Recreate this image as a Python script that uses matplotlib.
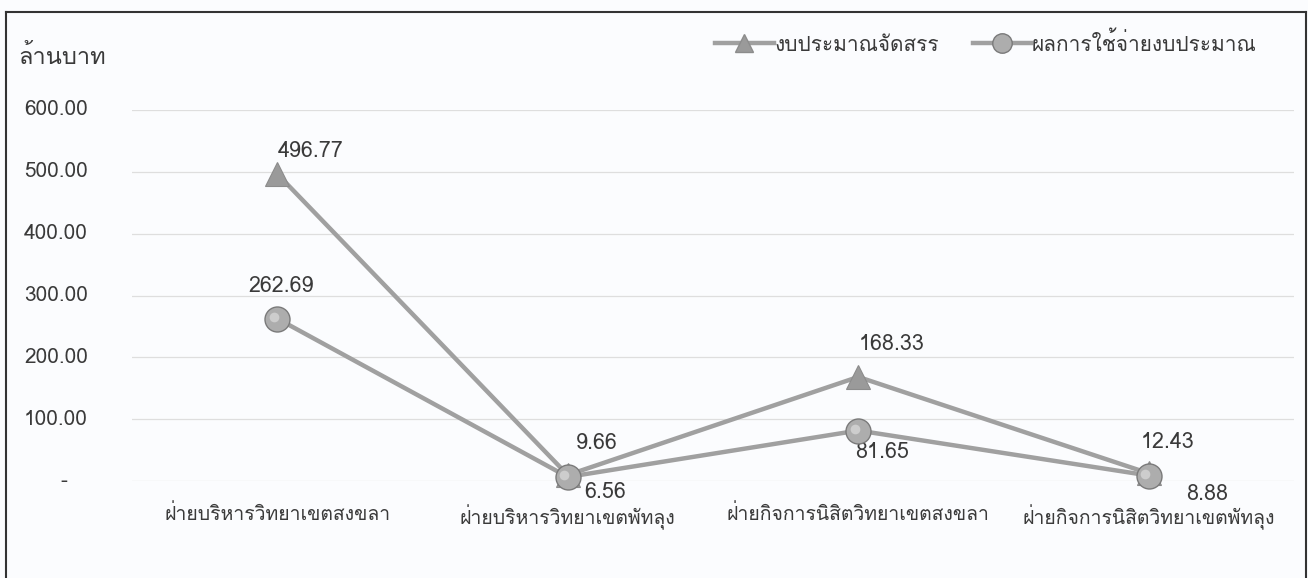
import matplotlib
matplotlib.use("Agg")
import matplotlib.pyplot as plt
from matplotlib import font_manager
from matplotlib.ft2font import FT2Font
from matplotlib.lines import Line2D
import numpy as np

# pick any installed font that has Thai glyphs
def thai_font():
    for f in font_manager.fontManager.ttflist:
        try:
            if 0x0E01 in FT2Font(f.fname).get_charmap():
                return f.name
        except Exception:
            pass
    return None

tf = thai_font()
plt.rcParams['font.family'] = ([tf] if tf else []) + ['DejaVu Sans']

categories = ["ฝ่ายบริหารวิทยาเขตสงขลา", "ฝ่ายบริหารวิทยาเขตพัทลุง",
              "ฝ่ายกิจการนิสิตวิทยาเขตสงขลา", "ฝ่ายกิจการนิสิตวิทยาเขตพัทลุง"]
budget = [496.77, 9.66, 168.33, 12.43]
spent = [262.69, 6.56, 81.65, 8.88]
yticks = [0, 100, 200, 300, 400, 500, 600]
series_names = ["งบประมาณจัดสรร", "ผลการใช้จ่ายงบประมาณ"]
ylabel = "ล้านบาท"

txt = '#3a3a3a'
line_c = '#a0a0a0'
bg = '#fbfcfe'

fig = plt.figure(figsize=(13.08, 5.78), dpi=100)
fig.patch.set_facecolor(bg)
ax = fig.add_axes([132/1308, 1-481/578, 1162/1308, 371/578])
ax.set_facecolor('none')

x = np.arange(len(categories))
ax.plot(x, budget, color=line_c, lw=3.2, marker='^', ms=17, mfc='#9a9a9a',
        mec='#8c8c8c', mew=0.8, zorder=3, clip_on=False)
ax.plot(x, spent, color=line_c, lw=3.2, marker='o', ms=18, mfc='#adadad',
        mec='#7a7a7a', mew=1.0, zorder=4, clip_on=False)
# small highlight on the spheres
ax.plot(x - 0.012, np.array(spent) + 3, 'o', ms=7, color='#cdcdcd', mec='none',
        zorder=5, clip_on=False)

ax.set_xlim(-0.5, len(categories) - 0.5)
ax.set_ylim(0, 600)
ax.set_yticks(yticks)
ax.set_yticklabels([])
ax.tick_params(axis='both', length=0)
ax.grid(axis='y', color='#dedede', lw=0.9)
ax.set_axisbelow(True)
for s in ax.spines.values():
    s.set_visible(False)
ax.set_xticks(x)
ax.set_xticklabels(categories, fontsize=14, color=txt)
ax.tick_params(axis='x', pad=17)

# y tick labels (accounting style, zero shown as dash)
yt = ax.get_yaxis_transform()
for v in yticks:
    if v == 0:
        ax.text(-0.056, v, "-", transform=yt, ha='right', va='center',
                fontsize=15, color=txt)
    else:
        ax.text(-0.038, v, f"{v:.2f}", transform=yt, ha='right', va='center',
                fontsize=15, color=txt)

# data labels
offs_b = [(0, 16, 'left'), (6, 23, 'left'), (0, 23, 'left'), (-6, 22, 'left')]
offs_s = [(3, 23, 'center'), (12, -11, 'left'), (-2, -16, 'left'), (27, -14, 'left')]
for i in range(len(categories)):
    dx, dy, ha = offs_b[i]
    ax.annotate(f"{budget[i]:.2f}", (x[i], budget[i]), xytext=(dx, dy),
                textcoords='offset points', ha=ha, va='center', fontsize=15.5, color=txt)
    dx, dy, ha = offs_s[i]
    ax.annotate(f"{spent[i]:.2f}", (x[i], spent[i]), xytext=(dx, dy),
                textcoords='offset points', ha=ha, va='center', fontsize=15.5, color=txt)

fig.text(18/1308, 1-57/578, ylabel, fontsize=17, color=txt, va='center', ha='left')

handles = [Line2D([], [], color=line_c, lw=3.2, marker='^', ms=13, mfc='#9a9a9a', mec='#8c8c8c'),
           Line2D([], [], color=line_c, lw=3.2, marker='o', ms=14, mfc='#adadad', mec='#7a7a7a')]
fig.legend(handles, series_names, loc='center', bbox_to_anchor=(986/1308, 1-43/578),
           ncol=2, frameon=False, fontsize=15, handlelength=2.8, handletextpad=0.05,
           columnspacing=1.6, labelcolor=txt)

# outer frame
fig.add_artist(Line2D([6/1308, 6/1308], [0, 1-12/578], color='#333333', lw=1.5))
fig.add_artist(Line2D([6/1308, 1306/1308], [1-12/578, 1-12/578], color='#333333', lw=1.5))
fig.add_artist(Line2D([1306/1308, 1306/1308], [0, 1-12/578], color='#333333', lw=1.5))

fig.savefig('out.png', dpi=100, facecolor=bg)
